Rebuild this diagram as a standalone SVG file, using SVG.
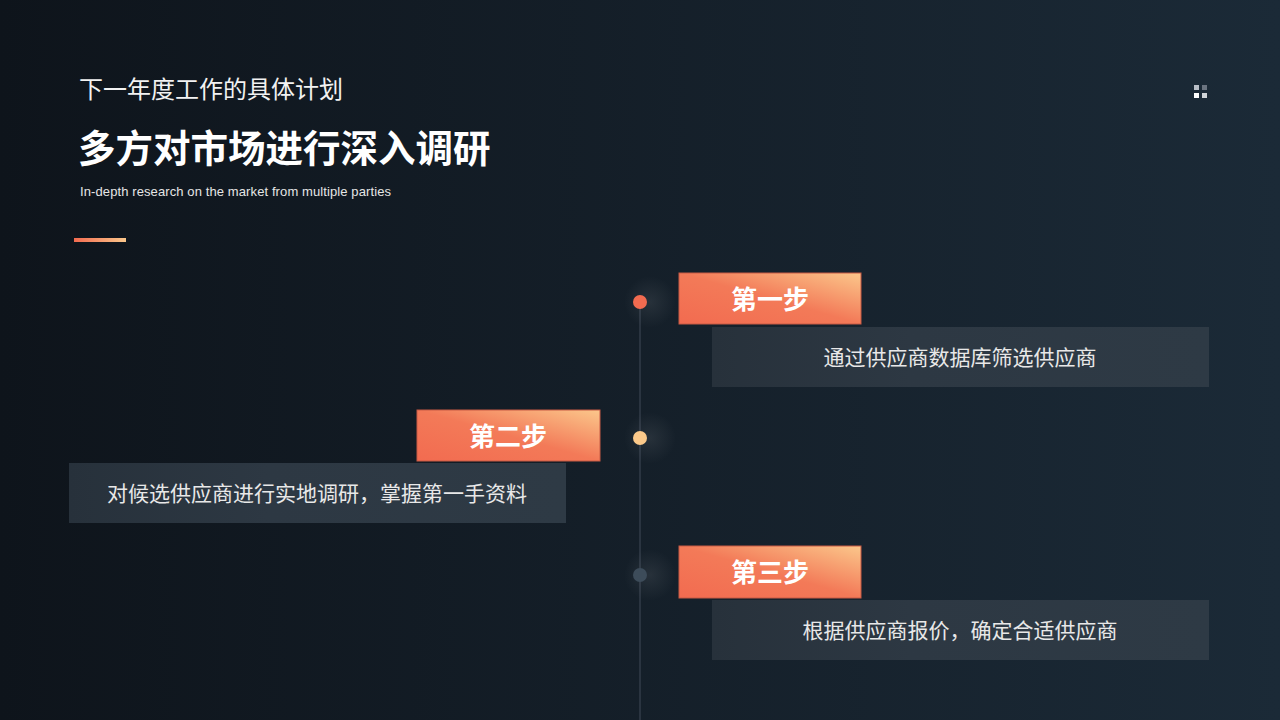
<svg xmlns="http://www.w3.org/2000/svg" width="1280" height="720" viewBox="0 0 1280 720">
<defs>
<linearGradient id="bg" x1="0" y1="0" x2="1" y2="0">
<stop offset="0" stop-color="#0e141b"/>
<stop offset="1" stop-color="#1b2a37"/>
</linearGradient>
<linearGradient id="tab" x1="0" y1="1" x2="1" y2="0">
<stop offset="0" stop-color="#f26b50"/>
<stop offset="0.5" stop-color="#f37a58"/>
<stop offset="1" stop-color="#fbc78b"/>
</linearGradient>
<linearGradient id="bar" x1="0" y1="0" x2="1" y2="0">
<stop offset="0" stop-color="#f26b50"/>
<stop offset="1" stop-color="#fbc78b"/>
</linearGradient>
<linearGradient id="box" x1="0" y1="0" x2="1" y2="0">
<stop offset="0" stop-color="#27313b"/>
<stop offset="0.4" stop-color="#2d3843"/>
<stop offset="1" stop-color="#2e3a45"/>
</linearGradient>
<radialGradient id="glow">
<stop offset="0" stop-color="#ffffff" stop-opacity="0.08"/>
<stop offset="1" stop-color="#ffffff" stop-opacity="0"/>
</radialGradient>
<style>
.cn{font-family:"Noto Sans CJK SC","Noto Sans",sans-serif;}
.t1{font-size:24px;fill:#f2f2f2;}
.t2{font-size:37.5px;font-weight:bold;fill:#ffffff;}
.en{font-family:"Liberation Sans",Arial,sans-serif;font-size:13px;fill:#e6e6e6;}
.step{font-size:26px;font-weight:bold;fill:#ffffff;text-anchor:middle;}
.desc{font-size:21px;fill:#e8e8e8;text-anchor:middle;}
.tabr{fill:url(#tab);stroke:#c85a44;stroke-width:1;}
.boxr{fill:url(#box);}
</style>
</defs>
<rect x="0" y="0" width="1280" height="720" fill="url(#bg)"/>

<g id="header">
<text class="cn t1" x="79" y="98">下一年度工作的具体计划</text>
<text class="cn t2" x="78" y="162">多方对市场进行深入调研</text>
<text class="en" x="80" y="196" textLength="311">In-depth research on the market from multiple parties</text>
<rect x="74" y="238" width="52" height="4" fill="url(#bar)"/>
</g>

<g id="icon">
<rect x="1194" y="85" width="5" height="5" fill="#b8bec6"/>
<rect x="1202" y="85" width="5" height="5" fill="#6b7480"/>
<rect x="1194" y="93" width="5" height="5" fill="#ffffff"/>
<rect x="1202" y="93" width="5" height="5" fill="#d0d4d8"/>
</g>

<g id="connectors">
<line x1="640" y1="302" x2="640" y2="720" stroke="#2a3440" stroke-width="2"/>
</g>

<g id="dot1">
<circle cx="650" cy="302" r="26" fill="url(#glow)"/>
<circle cx="640" cy="302" r="7" fill="#f26b50"/>
</g>
<g id="dot2">
<circle cx="650" cy="438" r="26" fill="url(#glow)"/>
<circle cx="640" cy="438" r="7" fill="#fbc98a"/>
</g>
<g id="dot3">
<circle cx="650" cy="575" r="26" fill="url(#glow)"/>
<circle cx="640" cy="575" r="7" fill="#3d4c5a"/>
</g>

<g id="step1">
<rect class="boxr" x="712" y="327" width="497" height="60"/>
<text class="cn desc" x="960" y="365">通过供应商数据库筛选供应商</text>
<rect class="tabr" x="679" y="273" width="182" height="51"/>
<text class="cn step" x="770" y="309">第一步</text>
</g>

<g id="step2">
<rect class="boxr" x="69" y="463" width="497" height="60"/>
<text class="cn desc" x="317" y="501">对候选供应商进行实地调研，掌握第一手资料</text>
<rect class="tabr" x="417" y="410" width="183" height="51"/>
<text class="cn step" x="508" y="446">第二步</text>
</g>

<g id="step3">
<rect class="boxr" x="712" y="600" width="497" height="60"/>
<text class="cn desc" x="960" y="638">根据供应商报价，确定合适供应商</text>
<rect class="tabr" x="679" y="546" width="182" height="52"/>
<text class="cn step" x="770" y="582">第三步</text>
</g>
</svg>
